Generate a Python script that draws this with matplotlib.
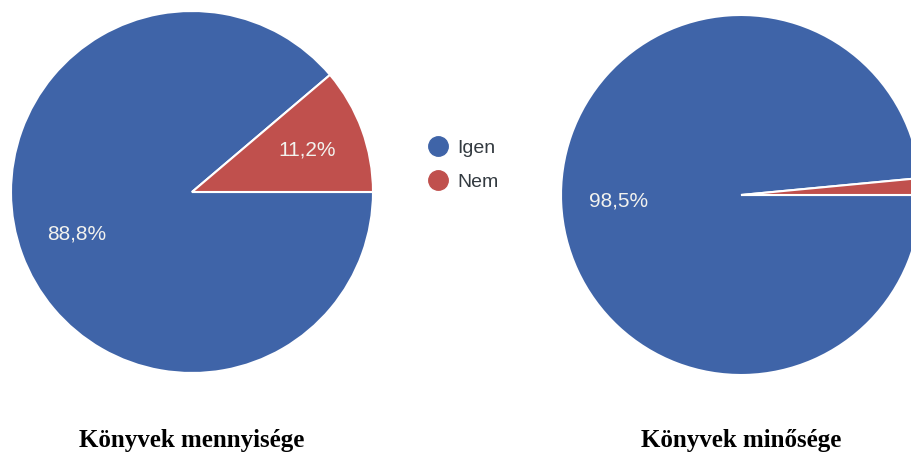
import matplotlib.pyplot as plt
from matplotlib.lines import Line2D

labels = ["Igen", "Nem"]
mennyiseg = [88.8, 11.2]
minoseg = [98.5, 1.5]
titles = ["Könyvek mennyisége", "Könyvek minősége"]

blue = "#3f64a8"
red = "#c0504d"

W, H = 912, 457
fig = plt.figure(figsize=(W / 100, H / 100), dpi=100)

def pct_label(p):
    if p < 5:
        return ""
    return f"{p:.1f}%".replace(".", ",")

def draw_pie(cx, cy, r, values, title):
    ax = fig.add_axes([(cx - r) / W, 1 - (cy + r) / H, 2 * r / W, 2 * r / H])
    wedges, texts, autotexts = ax.pie(
        values, colors=[blue, red], startangle=0, counterclock=False,
        autopct=pct_label, pctdistance=0.68,
        wedgeprops=dict(edgecolor="white", linewidth=1.5),
        textprops=dict(color="#f2f2ee", fontsize=15, family="Liberation Sans"))
    ax.set_xlim(-1, 1)
    ax.set_ylim(-1, 1)
    ax.set_aspect("equal")
    ax.axis("off")
    fig.text(cx / W, 1 - 441 / H, title, ha="center", va="center",
             fontsize=18, fontweight="bold", family="Liberation Serif")
    return wedges

draw_pie(192, 192, 181, mennyiseg, titles[0])
draw_pie(741, 195, 180, minoseg, titles[1])

handles = [Line2D([], [], marker="o", linestyle="", markersize=14,
                  markerfacecolor=c, markeredgecolor=c) for c in (blue, red)]
fig.legend(handles, labels, loc="center left",
           bbox_to_anchor=(411 / W, 1 - 165 / H), frameon=False,
           handletextpad=0.0, labelspacing=0.85, borderaxespad=0,
           prop=dict(family="Liberation Sans", size=14), labelcolor="#333a40")

fig.savefig("out.png", dpi=100)
